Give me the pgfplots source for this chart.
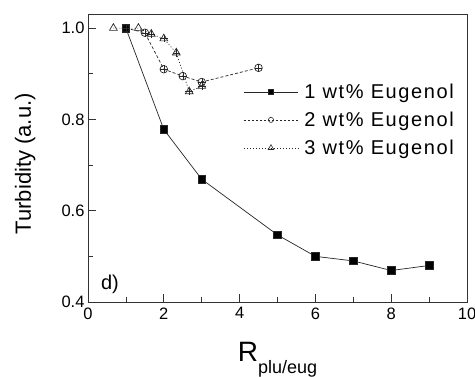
\documentclass[border=0pt]{standalone}
\usepackage{fontspec}
\setmainfont{Liberation Sans}
\newfontfamily\legfont[LetterSpace=8]{Liberation Sans}
\usepackage{pgfplots}
\pgfplotsset{compat=1.18}
\begin{document}
\begin{tikzpicture}
\begin{axis}[
  name=ax,
  scale only axis,
  width=379pt, height=288pt,
  xmin=0, xmax=10, ymin=0.4, ymax=1.031,
  xtick={0,2,...,10}, minor xtick={1,3,5,7,9},
  ytick={0.4,0.6,0.8,1.0}, minor ytick={0.5,0.7,0.9},
  yticklabel style={/pgf/number format/fixed,/pgf/number format/fixed zerofill,/pgf/number format/precision=1},
  /pgf/number format/assume math mode=true,
  tick label style={font=\fontsize{16.5}{18}\selectfont},
  xticklabel style={yshift=-2pt},
  tick align=inside,
  xtick pos=bottom, ytick pos=left,
  major tick length=8pt, minor tick length=5pt,
  axis line style={line width=0.8pt, black!80},
  every tick/.style={black!80, line width=0.7pt},
  clip=false,
  ylabel={Turbidity (a.u.)},
  ylabel style={at={(axis description cs:-0.166,0.48)}, anchor=center, font=\fontsize{22}{24}\selectfont},
  xlabel={{\fontsize{28}{30}\selectfont R}\raisebox{-12pt}{\fontsize{18}{20}\selectfont plu/eug}},
  xlabel style={at={(axis description cs:0.5,-0.205)}, anchor=base},
  legend style={draw=none, fill=none, at={(rel axis cs:0.41,0.765)}, anchor=north west,
    font=\fontsize{20}{22}\selectfont\legfont, row sep=8pt, inner sep=0pt,
    /tikz/every odd column/.append style={column sep=4pt}},
  legend cell align=left,
  legend image code/.code={\draw[mark repeat=2,mark phase=2] plot coordinates {(0cm,0cm) (0.95cm,0cm) (1.9cm,0cm)};},
]
\addplot[black!85, line width=0.7pt, mark=square*, mark size=3.8pt, mark options={solid, fill=black}, forget plot]
  coordinates {(1,1.0) (2,0.778) (3,0.669) (5,0.547) (6,0.500) (7,0.490) (8,0.469) (9,0.480)};
\addplot[black!85, line width=0.7pt, dash pattern=on 3pt off 2pt, mark=o, mark size=3.8pt, mark options={solid, fill=white}, forget plot]
  coordinates {(1,1.0) (1.5,0.990) (2,0.910) (2.5,0.895) (3,0.882) (4.5,0.913)};
\addplot[black!85, line width=0.7pt, dash pattern=on 1pt off 2pt, mark=triangle, mark size=4.5pt, mark options={solid}, forget plot]
  coordinates {(0.67,1.0) (1.33,1.0) (1.67,0.987) (2,0.977) (2.33,0.946) (2.67,0.861) (3,0.873)};
\addplot[only marks, black!85, mark=+, mark size=3.8pt, forget plot]
  coordinates {(1,1.0) (1.5,0.990) (2,0.910) (2.5,0.895) (3,0.882) (4.5,0.913) (1.67,0.987) (2,0.977) (2.33,0.946) (2.67,0.861) (3,0.873)};
\addlegendimage{black!85, line width=0.7pt, mark=square*, mark size=2.8pt, mark options={solid, fill=black}}
\addlegendentry{1 wt\% Eugenol}
\addlegendimage{black!85, line width=0.6pt, dash pattern=on 2.5pt off 1.5pt, mark=o, mark size=2.6pt, mark options={solid, fill=white}}
\addlegendentry{2 wt\% Eugenol}
\addlegendimage{black!85, line width=0.6pt, dash pattern=on 1pt off 2pt, mark=triangle, mark size=3.2pt, mark options={solid}}
\addlegendentry{3 wt\% Eugenol}
\node[anchor=base west, font=\fontsize{20}{22}\selectfont] at (rel axis cs:0.025,0.045) {d)};
\end{axis}
\pgfresetboundingbox
\useasboundingbox ([xshift=-88pt,yshift=-74pt]ax.south west) rectangle ([xshift=8pt,yshift=14pt]ax.north east);
\end{tikzpicture}
\end{document}
